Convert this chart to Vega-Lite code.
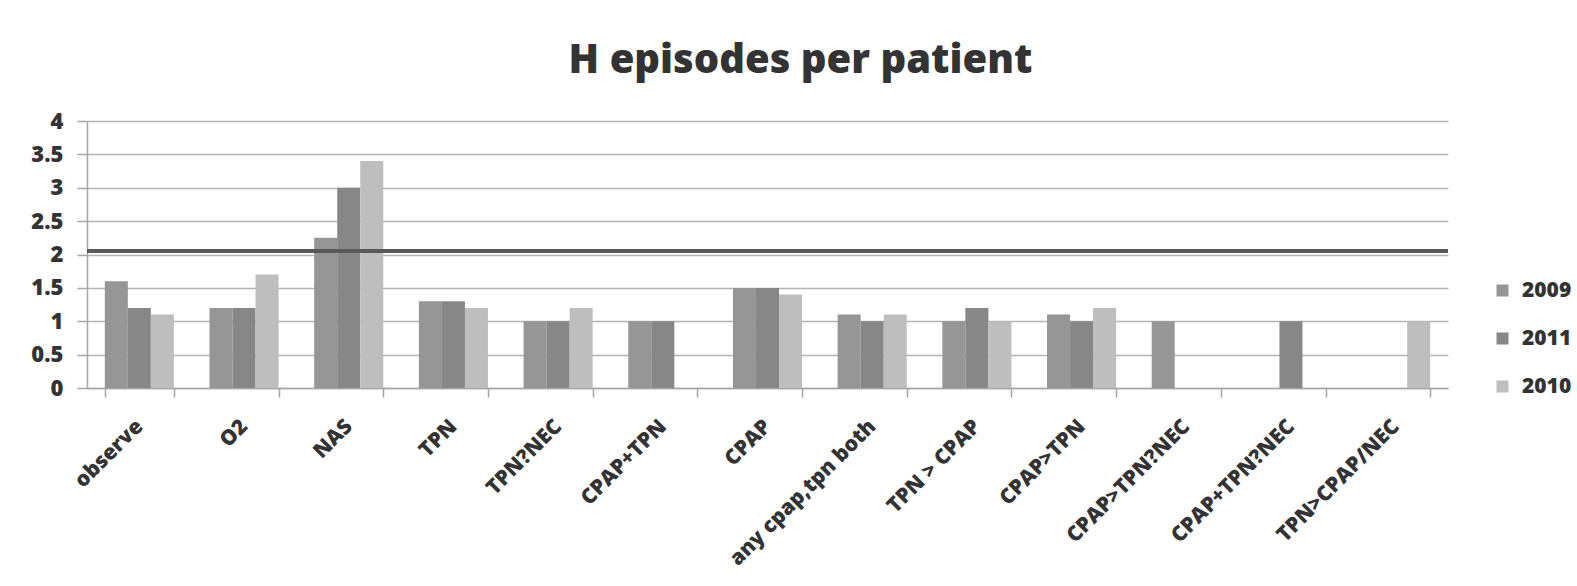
{
  "$schema": "https://vega.github.io/schema/vega-lite/v6.json",
  "autosize": "none",
  "width": 1361,
  "height": 267,
  "padding": {"left": 87, "top": 121, "right": 129, "bottom": 198},
  "background": "white",
  "title": {
    "text": "H episodes per patient",
    "font": "Open Sans",
    "fontSize": 40,
    "fontWeight": 800,
    "color": "#333333",
    "anchor": "middle",
    "dx": 33,
    "dy": 38,
    "offset": 35,
    "baseline": "alphabetic"
  },
  "config": {
    "view": {"stroke": null},
    "font": "Open Sans"
  },
  "data": {
    "values": [
      {"category": "observe", "year": "2009", "value": 1.6},
      {"category": "observe", "year": "2011", "value": 1.2},
      {"category": "observe", "year": "2010", "value": 1.1},
      {"category": "O2", "year": "2009", "value": 1.2},
      {"category": "O2", "year": "2011", "value": 1.2},
      {"category": "O2", "year": "2010", "value": 1.7},
      {"category": "NAS", "year": "2009", "value": 2.25},
      {"category": "NAS", "year": "2011", "value": 3.0},
      {"category": "NAS", "year": "2010", "value": 3.4},
      {"category": "TPN", "year": "2009", "value": 1.3},
      {"category": "TPN", "year": "2011", "value": 1.3},
      {"category": "TPN", "year": "2010", "value": 1.2},
      {"category": "TPN?NEC", "year": "2009", "value": 1.0},
      {"category": "TPN?NEC", "year": "2011", "value": 1.0},
      {"category": "TPN?NEC", "year": "2010", "value": 1.2},
      {"category": "CPAP+TPN", "year": "2009", "value": 1.0},
      {"category": "CPAP+TPN", "year": "2011", "value": 1.0},
      {"category": "CPAP", "year": "2009", "value": 1.5},
      {"category": "CPAP", "year": "2011", "value": 1.5},
      {"category": "CPAP", "year": "2010", "value": 1.4},
      {"category": "any cpap,tpn both", "year": "2009", "value": 1.1},
      {"category": "any cpap,tpn both", "year": "2011", "value": 1.0},
      {"category": "any cpap,tpn both", "year": "2010", "value": 1.1},
      {"category": "TPN > CPAP", "year": "2009", "value": 1.0},
      {"category": "TPN > CPAP", "year": "2011", "value": 1.2},
      {"category": "TPN > CPAP", "year": "2010", "value": 1.0},
      {"category": "CPAP>TPN", "year": "2009", "value": 1.1},
      {"category": "CPAP>TPN", "year": "2011", "value": 1.0},
      {"category": "CPAP>TPN", "year": "2010", "value": 1.2},
      {"category": "CPAP>TPN?NEC", "year": "2009", "value": 1.0},
      {"category": "CPAP+TPN?NEC", "year": "2011", "value": 1.0},
      {"category": "TPN>CPAP/NEC", "year": "2010", "value": 1.0}
    ]
  },
  "layer": [
    {
      "mark": {"type": "bar"},
      "encoding": {
        "x": {
          "field": "category",
          "type": "nominal",
          "sort": ["observe", "O2", "NAS", "TPN", "TPN?NEC", "CPAP+TPN", "CPAP", "any cpap,tpn both", "TPN > CPAP", "CPAP>TPN", "CPAP>TPN?NEC", "CPAP+TPN?NEC", "TPN>CPAP/NEC"],
          "scale": {"paddingInner": 0.34, "paddingOuter": 0.17},
          "axis": {
            "title": null,
            "labelAngle": -45,
            "labelAlign": "right",
            "labelBaseline": "middle",
            "labelFontSize": 21,
            "labelFontWeight": 800,
            "labelColor": "#333333",
            "labelPadding": 26,
            "labelLimit": 300,
            "labelOverlap": false,
            "tickBand": "extent",
            "tickSize": 9,
            "tickColor": "#a6a6a6",
            "tickWidth": 1.5,
            "domainColor": "#a6a6a6",
            "domainWidth": 1.5,
            "grid": false
          }
        },
        "xOffset": {
          "field": "year",
          "type": "nominal",
          "scale": {"domain": ["2009", "2011", "2010"], "paddingInner": 0, "paddingOuter": 0}
        },
        "y": {
          "field": "value",
          "type": "quantitative",
          "scale": {"domain": [0, 4]},
          "axis": {
            "title": null,
            "values": [0, 0.5, 1, 1.5, 2, 2.5, 3, 3.5, 4],
            "format": ".1~f",
            "labelOverlap": false,
            "labelFontSize": 22,
            "labelFontWeight": 800,
            "labelColor": "#333333",
            "labelPadding": 14,
            "tickSize": 10,
            "tickColor": "#a6a6a6",
            "tickWidth": 1.5,
            "domainColor": "#a6a6a6",
            "domainWidth": 1.5,
            "gridColor": "#b4b4b4",
            "gridWidth": 1.5
          }
        },
        "color": {
          "field": "year",
          "type": "nominal",
          "scale": {"domain": ["2009", "2011", "2010"], "range": ["#969696", "#878787", "#bebebe"]},
          "legend": {
            "title": null,
            "orient": "none",
            "legendX": 1405,
            "legendY": 159,
            "symbolType": "square",
            "symbolSize": 144,
            "symbolStrokeWidth": 0,
            "labelFontSize": 21,
            "labelFontWeight": 800,
            "labelColor": "#333333",
            "labelOffset": 9,
            "rowPadding": 26
          }
        }
      }
    },
    {
      "mark": {"type": "rule", "color": "#5a5a5a", "strokeWidth": 3},
      "encoding": {
        "y": {
          "datum": 2.05,
          "type": "quantitative",
          "axis": {
            "title": null,
            "values": [0, 0.5, 1, 1.5, 2, 2.5, 3, 3.5, 4],
            "format": ".1~f",
            "labelOverlap": false,
            "labelFontSize": 22,
            "labelFontWeight": 800,
            "labelColor": "#333333",
            "labelPadding": 14,
            "tickSize": 10,
            "tickColor": "#a6a6a6",
            "tickWidth": 1.5,
            "domainColor": "#a6a6a6",
            "domainWidth": 1.5,
            "gridColor": "#b4b4b4",
            "gridWidth": 1.5
          }
        }
      }
    }
  ]
}
